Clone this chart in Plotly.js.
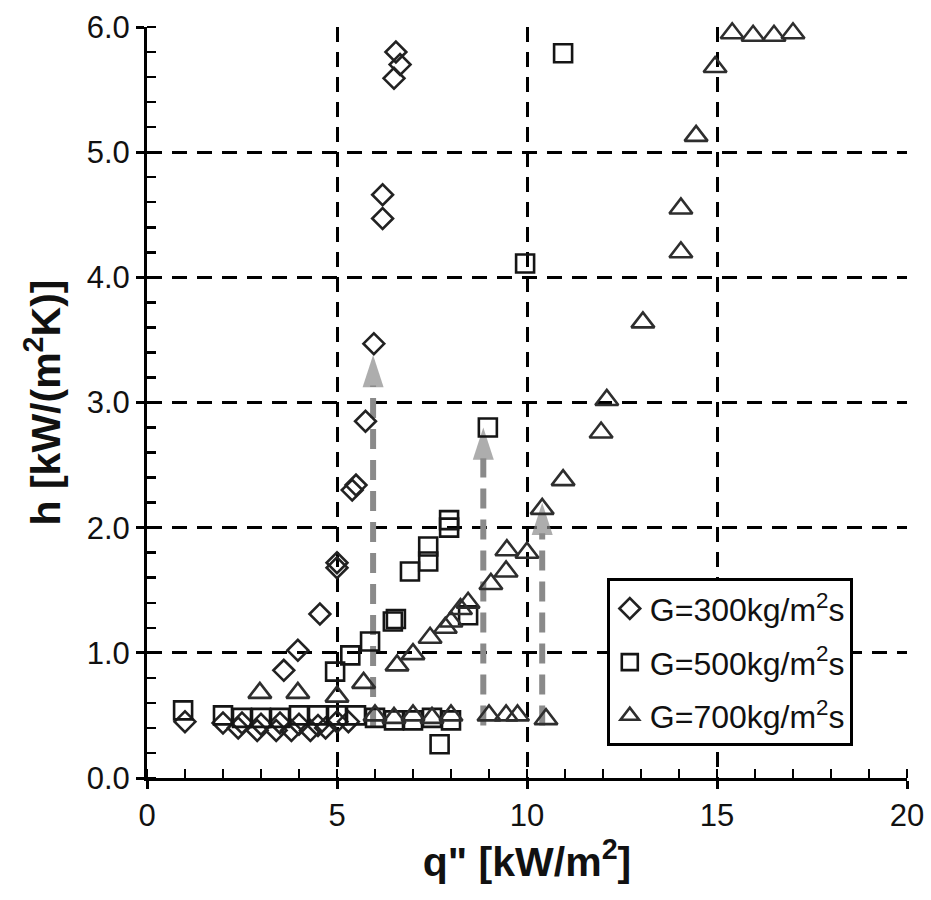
<!DOCTYPE html>
<html>
<head>
<meta charset="utf-8">
<script src="https://cdn.plot.ly/plotly-3.0.1.min.js"></script>
<style>html,body{margin:0;padding:0;background:#fff;}#chart{width:931px;height:900px;}</style>
</head>
<body>
<div id="chart"></div>
<script>
// G = 300 kg/m2s (diamonds)
const q300 = [1.0, 2.0, 2.4, 2.5, 2.9, 3.0, 3.4, 3.5, 3.8, 4.0, 4.3, 4.5, 4.7, 5.0, 5.3,
              3.6, 3.97, 4.55, 5.0, 5.0, 5.4, 5.5, 5.75, 5.97, 6.2, 6.2, 6.55, 6.66, 6.5];
const h300 = [0.45, 0.44, 0.40, 0.44, 0.38, 0.43, 0.38, 0.44, 0.38, 0.43, 0.38, 0.42, 0.40, 0.45, 0.45,
              0.86, 1.02, 1.31, 1.72, 1.68, 2.30, 2.34, 2.85, 3.47, 4.66, 4.47, 5.80, 5.70, 5.59];

// G = 500 kg/m2s (squares)
const q500 = [0.95, 2.0, 2.5, 3.0, 3.5, 4.0, 4.5, 5.0, 5.5, 6.0, 6.5, 7.0, 7.5, 8.0, 7.7,
              4.95, 5.35, 5.87, 6.47, 6.55, 6.92, 7.4, 7.4, 7.95, 7.95, 8.45, 8.97, 9.95, 10.95];
const h500 = [0.54, 0.50, 0.48, 0.48, 0.48, 0.50, 0.50, 0.50, 0.50, 0.48, 0.46, 0.46, 0.48, 0.46, 0.27,
              0.85, 0.98, 1.09, 1.25, 1.27, 1.65, 1.73, 1.85, 2.00, 2.06, 1.30, 2.80, 4.11, 5.79];

// G = 700 kg/m2s (triangles)
const q700 = [6.0, 6.5, 7.0, 7.5, 8.0, 9.0, 9.45, 9.75, 10.5,
              2.97, 3.97, 5.0, 5.7, 6.58, 7.0, 7.45, 7.85, 8.0, 8.25, 8.45, 9.05, 9.45, 9.47, 10.0,
              10.4, 10.95, 11.95, 12.1, 13.05, 14.05, 14.05, 14.45, 14.95, 15.4, 15.95, 16.5, 17.0];
const h700 = [0.50, 0.48, 0.50, 0.48, 0.50, 0.50, 0.50, 0.50, 0.47,
              0.68, 0.68, 0.65, 0.76, 0.90, 0.99, 1.12, 1.20, 1.25, 1.35, 1.40, 1.55, 1.65, 1.82, 1.80,
              2.15, 2.38, 2.76, 3.02, 3.64, 4.20, 4.55, 5.13, 5.68, 5.95, 5.93, 5.93, 5.95];

// Hysteresis jump arrows (grey dashed)
const arrowQ = [5.95, 8.85, 10.4];
const arrowBottom = [0.40, 0.42, 0.42];
const arrowTop = [3.38, 2.80, 2.20];

const legendNames = ["G=300kg/m<sup>2</sup>s", "G=500kg/m<sup>2</sup>s", "G=700kg/m<sup>2</sup>s"];

const FONT = "Liberation Sans, Arial, sans-serif";
const traces = [];

// arrows first (drawn beneath markers)
for (let i = 0; i < arrowQ.length; i++) {
  traces.push({
    type: "scatter", mode: "lines+markers",
    x: [arrowQ[i], arrowQ[i]], y: [arrowBottom[i], arrowTop[i]],
    line: {color: "#8a8a8a", width: 6, dash: "20px,11px"},
    marker: {symbol: ["circle", "arrow"], size: [0, 34], angleref: "previous", color: "#8a8a8a",
             line: {width: 0}},
    showlegend: false, hoverinfo: "skip", cliponaxis: false
  });
}

traces.push({
  type: "scatter", mode: "markers", name: legendNames[0], x: q300, y: h300,
  legendgroup: "a",
  marker: {symbol: "diamond-open", size: 16, color: "#222222", line: {width: 2.6}},
  cliponaxis: false
});
traces.push({
  type: "scatter", mode: "markers", name: legendNames[1], x: q500, y: h500,
  legendgroup: "b",
  marker: {symbol: "square-open", size: 18, color: "#151515", line: {width: 2.6}},
  cliponaxis: false
});
traces.push({
  type: "scatter", mode: "markers", name: legendNames[2], x: q700, y: h700,
  legendgroup: "c",
  marker: {symbol: "triangle-up-open", size: 20, color: "#2e2e2e", line: {width: 2.6}},
  cliponaxis: false
});

const layout = {
  width: 931, height: 900,
  margin: {l: 147, r: 24, t: 27, b: 122},
  paper_bgcolor: "#ffffff", plot_bgcolor: "#ffffff",
  font: {family: FONT, color: "#111111", size: 30},
  showlegend: true,
  legend: {
    x: 0.605, y: 0.266, xanchor: "left", yanchor: "top",
    bgcolor: "#ffffff", bordercolor: "#000000", borderwidth: 3,
    font: {family: FONT, size: 32, color: "#111111"},
    traceorder: "grouped", tracegroupgap: 9,
    itemwidth: 30
  },
  xaxis: {
    range: [0, 20], dtick: 5, tick0: 0,
    showline: true, linecolor: "#000000", linewidth: 3,
    ticks: "outside", ticklen: 8, tickwidth: 3, tickcolor: "#000000",
    showgrid: true, gridcolor: "#000000", gridwidth: 3, griddash: "15px,10px",
    zeroline: false,
    minor: {dtick: 1, ticks: "inside", ticklen: 9, tickwidth: 2.5, tickcolor: "#000000", showgrid: false},
    tickfont: {family: FONT, size: 31, color: "#111111"},
    title: {text: "q\" [kW/m<sup>2</sup>]", font: {family: FONT, size: 41, color: "#111111", weight: "bold"}, standoff: 10}
  },
  yaxis: {
    range: [0, 6], dtick: 1, tick0: 0, tickformat: ".1f",
    showline: true, linecolor: "#000000", linewidth: 3,
    ticks: "outside", ticklen: 8, tickwidth: 3, tickcolor: "#000000",
    showgrid: true, gridcolor: "#000000", gridwidth: 3, griddash: "15px,10px",
    zeroline: false,
    minor: {dtick: 0.2, ticks: "inside", ticklen: 9, tickwidth: 2.5, tickcolor: "#000000", showgrid: false},
    tickfont: {family: FONT, size: 31, color: "#111111"},
    title: {text: "h [kW/(m<sup>2</sup>K)]", font: {family: FONT, size: 41, color: "#111111", weight: "bold"}, standoff: 14}
  }
};

Plotly.newPlot("chart", traces, layout, {displayModeBar: false, staticPlot: true});
</script>
</body>
</html>
